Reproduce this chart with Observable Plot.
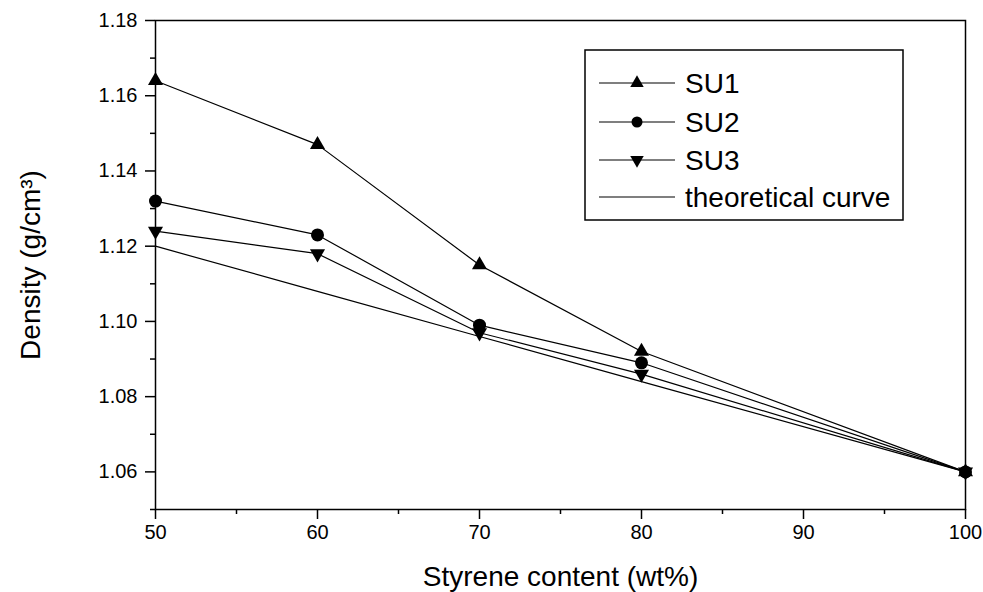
<!DOCTYPE html>
<html><head><meta charset="utf-8">
<script src="https://cdn.jsdelivr.net/npm/d3@7"></script>
<script src="https://cdn.jsdelivr.net/npm/@observablehq/plot@0.6"></script>
<style>
body{margin:0;background:#fff;}
#wrap{position:relative;width:983px;height:592px;font-family:"Liberation Sans",Arial,sans-serif;}
#legend{position:absolute;left:0;top:0;}
</style></head><body><div id="wrap"></div>
<script>
// Data
const styrene = [50, 60, 70, 80, 100];
const su1 = [1.164, 1.147, 1.115, 1.092, 1.060];
const su2 = [1.132, 1.123, 1.099, 1.089, 1.060];
const su3 = [1.124, 1.118, 1.097, 1.086, 1.060];
const theory = [1.120, 1.108, 1.096, 1.084, 1.060];
const seriesNames = ["SU1", "SU2", "SU3", "theoretical curve"];
const xTicks = [50, 60, 70, 80, 90, 100];
const xMinor = [55, 65, 75, 85, 95];
const yTicks = [1.06, 1.08, 1.10, 1.12, 1.14, 1.16, 1.18];
const yMinor = [1.05, 1.07, 1.09, 1.11, 1.13, 1.15, 1.17];
const xTitle = "Styrene content (wt%)";
const yTitle = "Density (g/cm³)";

const seriesValues = [su1, su2, su3, theory];
const rows = seriesValues.flatMap((vals, k) => styrene.map((x, i) => ({x, y: vals[i], s: seriesNames[k]})));
const pick = name => rows.filter(d => d.s === name);

const font = '"Liberation Sans", Arial, sans-serif';
const chart = Plot.plot({
  width: 983, height: 592,
  marginLeft: 155, marginRight: 18, marginTop: 20, marginBottom: 83,
  style: {fontFamily: font, fontSize: "20px", color: "black", background: "white"},
  x: {domain: [50, 100], label: null},
  y: {domain: [1.05, 1.18], label: null},
  marks: [
    Plot.axisX(xTicks, {tickSize: 10, tickPadding: 5, strokeWidth: 1.5, tickFormat: d => String(d), label: null, fontSize: 20}),
    Plot.axisX(xMinor, {tickSize: 5, strokeWidth: 1.5, tickFormat: () => "", label: null}),
    Plot.axisY(yTicks, {tickSize: 10, tickPadding: 8, strokeWidth: 1.5, tickFormat: d => d.toFixed(2), label: null, fontSize: 20}),
    Plot.axisY(yMinor, {tickSize: 5, strokeWidth: 1.5, tickFormat: () => "", label: null}),
    ...seriesNames.map(n => Plot.line(pick(n), {x: "x", y: "y", stroke: "black", strokeWidth: 1.2})),
    Plot.dot(pick("SU1"), {x: "x", y: "y", symbol: "triangle", r: 5.6, fill: "black", stroke: "none"}),
    Plot.dot(pick("SU2"), {x: "x", y: "y", symbol: "circle", r: 6.5, fill: "black", stroke: "none"}),
    Plot.dot(pick("SU3"), {x: "x", y: "y", symbol: "triangle", rotate: 180, r: 5.6, fill: "black", stroke: "none"}),
    Plot.frame({stroke: "black", strokeWidth: 1.5}),
    Plot.text([xTitle], {frameAnchor: "bottom", dy: 68, text: d => d, fontSize: 28, textAnchor: "middle", lineAnchor: "middle"}),
    Plot.text([yTitle], {frameAnchor: "left", dx: -124, text: d => d, fontSize: 28, rotate: -90, textAnchor: "middle", lineAnchor: "middle"})
  ]
});
const wrap = document.getElementById("wrap");
wrap.appendChild(chart);

// Legend overlay
const box = {left: 585, top: 50, width: 318, height: 170};
const rowY = [33, 72, 110, 147];
const symbols = [{t: d3.symbolTriangle, rot: 0}, {t: d3.symbolCircle, rot: 0}, {t: d3.symbolTriangle, rot: 180}, null];
const svg = d3.select(wrap).append("svg").attr("id", "legend").attr("width", 983).attr("height", 592)
  .style("pointer-events", "none");
const g = svg.append("g").attr("transform", `translate(${box.left},${box.top})`);
g.append("rect").attr("width", box.width).attr("height", box.height).attr("fill", "white").attr("stroke", "black").attr("stroke-width", 1.5);
seriesNames.forEach((name, i) => {
  const row = g.append("g").attr("transform", `translate(0,${rowY[i]})`);
  row.append("line").attr("x1", 14).attr("x2", 90).attr("stroke", "black").attr("stroke-width", 1.2);
  const s = symbols[i];
  if (s) {
    const size = s.t === d3.symbolCircle ? Math.PI * 5.5 * 5.5 : Math.PI * 5 * 5;
    row.append("path").attr("d", d3.symbol(s.t, size)()).attr("transform", `translate(52,0) rotate(${s.rot})`).attr("fill", "black");
  }
  row.append("text").attr("x", 100).attr("dy", "0.35em").attr("font-family", font).attr("font-size", 28).text(name);
});
</script></body></html>
